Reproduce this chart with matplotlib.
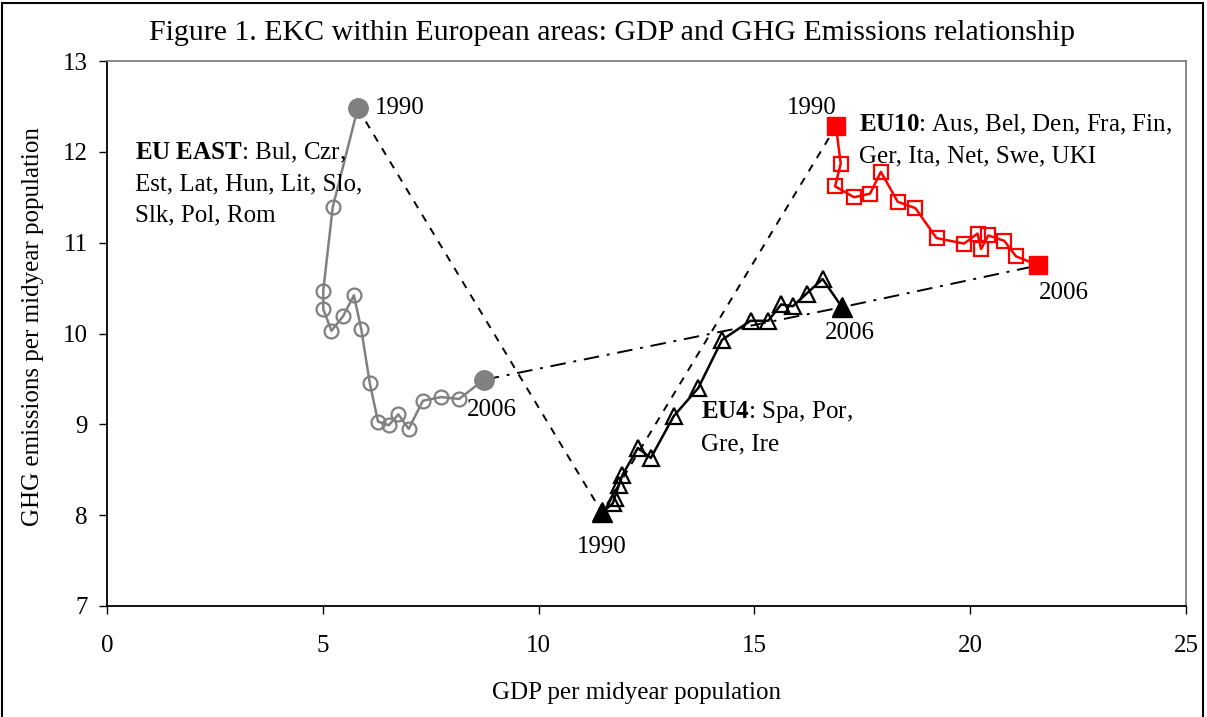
import matplotlib
matplotlib.use("Agg")
import matplotlib.pyplot as plt
from matplotlib.patches import Rectangle

plt.rcParams['font.family'] = ['Liberation Serif', 'DejaVu Serif']
plt.rcParams['mathtext.fontset'] = 'custom'
plt.rcParams['mathtext.rm'] = 'Liberation Serif'
plt.rcParams['mathtext.bf'] = 'Liberation Serif:bold'

# EU EAST, 1990 -> 2006
east_gdp = [5.81, 5.23, 5.01, 5.01, 5.20, 5.47, 5.72, 5.89, 6.09, 6.28, 6.53, 6.75, 6.99, 7.32, 7.74, 8.16, 8.73]
east_ghg = [12.48, 11.39, 10.47, 10.27, 10.03, 10.19, 10.42, 10.05, 9.45, 9.03, 8.99, 9.11, 8.95, 9.26, 9.30, 9.28, 9.49]

# EU4, 1990 -> 2006
eu4_gdp = [11.47, 11.72, 11.76, 11.86, 11.94, 12.30, 12.60, 13.13, 13.70, 14.25, 14.91, 15.32, 15.62, 15.89, 16.21, 16.58, 17.03]
eu4_ghg = [8.03, 8.13, 8.19, 8.33, 8.44, 8.74, 8.63, 9.09, 9.40, 9.93, 10.14, 10.14, 10.32, 10.30, 10.44, 10.60, 10.29]

# EU10, 1990 -> 2006
eu10_gdp = [16.89, 17.00, 16.87, 17.31, 17.68, 17.93, 18.32, 18.73, 19.22, 19.86, 20.17, 20.25, 20.42, 20.79, 21.06, 21.58]
eu10_ghg = [12.28, 11.87, 11.62, 11.50, 11.54, 11.78, 11.45, 11.38, 11.05, 10.99, 11.10, 10.93, 11.08, 11.02, 10.85, 10.75]

x_ticks = [0, 5, 10, 15, 20, 25]
y_ticks = [7, 8, 9, 10, 11, 12, 13]

fs = 18
gray = '#808080'

fig = plt.figure(figsize=(12.07, 7.17), dpi=100)
ax = fig.add_axes([107 / 1207, 1 - 606 / 717, (1186 - 107) / 1207, (606 - 61) / 717])

# links between the 1990 points and between the 2006 points
ax.plot([east_gdp[0], eu4_gdp[0], eu10_gdp[0]], [east_ghg[0], eu4_ghg[0], eu10_ghg[0]],
        color='black', lw=1.4, ls=(0, (4, 4)), zorder=1)
ax.plot([east_gdp[-1], eu4_gdp[-1], eu10_gdp[-1]], [east_ghg[-1], eu4_ghg[-1], eu10_ghg[-1]],
        color='black', lw=1.4, ls=(0, (8, 4, 1.5, 4)), zorder=1)

# series
ax.plot(east_gdp, east_ghg, color=gray, lw=1.8, marker='o', ms=10, mfc='none', mec=gray, mew=1.6, zorder=3)
ax.plot([east_gdp[0], east_gdp[-1]], [east_ghg[0], east_ghg[-1]], ls='none', marker='o', ms=14,
        color=gray, zorder=4)

ax.plot(eu4_gdp, eu4_ghg, color='black', lw=1.8, marker='^', ms=11, mfc='none', mec='black', mew=1.6, zorder=3)
ax.plot([eu4_gdp[0], eu4_gdp[-1]], [eu4_ghg[0], eu4_ghg[-1]], ls='none', marker='^', ms=15,
        color='black', zorder=4)

ax.plot(eu10_gdp, eu10_ghg, color='red', lw=1.8, marker='s', ms=10, mfc='none', mec='red', mew=1.6, zorder=3)
ax.plot([eu10_gdp[0], eu10_gdp[-1]], [eu10_ghg[0], eu10_ghg[-1]], ls='none', marker='s', ms=13,
        color='red', zorder=4)

# year labels
ax.text(east_gdp[0] + 0.4, east_ghg[0], '1990', fontsize=fs, va='center', ha='left')
ax.text(east_gdp[-1] - 0.4, east_ghg[-1] - 0.33, '2006', fontsize=fs, va='center', ha='left')
ax.text(eu4_gdp[0], eu4_ghg[0] - 0.38, '1990', fontsize=fs, va='center', ha='center')
ax.text(eu4_gdp[-1] - 0.4, eu4_ghg[-1] - 0.28, '2006', fontsize=fs, va='center', ha='left')
ax.text(eu10_gdp[0] + 0.02, 12.48, '1990', fontsize=fs, va='center', ha='right')
ax.text(eu10_gdp[-1], eu10_ghg[-1] - 0.3, '2006', fontsize=fs, va='center', ha='left')

# group labels
ax.text(0.65, 11.65, '$\\mathbf{EU}$ $\\mathbf{EAST}$: Bul, Czr,\nEst, Lat, Hun, Lit, Slo,\nSlk, Pol, Rom',
        fontsize=fs, va='center', ha='left', linespacing=1.5)
ax.text(17.42, 12.13, '$\\mathbf{EU10}$: Aus, Bel, Den, Fra, Fin,\nGer, Ita, Net, Swe, UKI',
        fontsize=fs, va='center', ha='left', linespacing=1.5)
ax.text(13.76, 8.97, '$\\mathbf{EU4}$: Spa, Por,\nGre, Ire',
        fontsize=fs, va='center', ha='left', linespacing=1.5)

ax.set_xlim(0, 25)
ax.set_ylim(7, 13)
ax.set_xticks(x_ticks)
ax.set_yticks(y_ticks)
ax.set_xticklabels([str(t) for t in x_ticks])
ax.set_yticklabels([str(t) for t in y_ticks])
ax.tick_params(axis='x', direction='out', length=6, width=1, pad=15, labelsize=fs)
ax.tick_params(axis='y', direction='out', length=6, width=1, pad=8, labelsize=fs)

for side in ['left', 'bottom']:
    ax.spines[side].set_color('black')
    ax.spines[side].set_linewidth(1.3)
for side in ['top', 'right']:
    ax.spines[side].set_color(gray)
    ax.spines[side].set_linewidth(1.3)

fig.text(612 / 1207, 1 - 33 / 717, 'Figure 1. EKC within European areas: GDP and GHG Emissions relationship',
         fontsize=21.5, ha='center', va='center')
fig.text(636 / 1207, 1 - 693 / 717, 'GDP per midyear population', fontsize=fs, ha='center', va='center')
fig.text(33 / 1207, 1 - 327 / 717, 'GHG emissions per midyear population', fontsize=fs,
         ha='center', va='center', rotation=90)

# outer frame of the figure
fig.patches.append(Rectangle((2 / 1207, -0.05), 1201 / 1207, 1.05 - 3 / 717, transform=fig.transFigure,
                             fill=False, edgecolor='black', lw=1.5))

fig.savefig('out.png', dpi=100)
